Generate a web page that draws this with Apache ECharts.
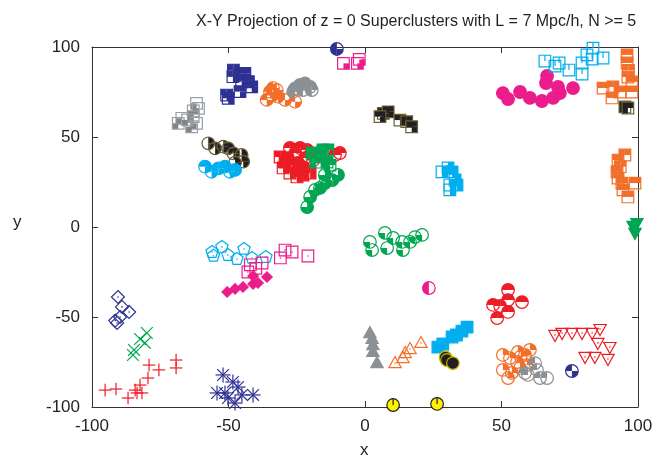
<!DOCTYPE html>
<html>
<head>
<meta charset="utf-8">
<script src="https://cdn.jsdelivr.net/npm/echarts@6/dist/echarts.min.js"></script>
<style>
  html, body { margin: 0; padding: 0; background: #fff; }
  #chart { width: 657px; height: 461px; }
</style>
</head>
<body>
<div id="chart"></div>
<script>
// ---- axis ticks ----
const xTicks = [-100, -50, 0, 50, 100];
const yTicks = [-100, -50, 0, 50, 100];

// ---- supercluster member positions (x, y) in Mpc/h ----
const navySquares = [[-48.2,87.2],[-45.8,85.4],[-44,85.4],[-45.2,80.7],[-42.7,80.7],[-41.5,77.9],[-45.8,75.2],[-50.1,71.5],[-50.7,73.3],[-48.4,83.5]];
const graySquares = [[-61.7,68.7],[-61,65.9],[-62.9,64.5],[-62.9,61.3],[-67.1,60.4],[-68.4,57.6],[-61.7,57.6],[-63.5,55.7],[-65,59.5]];
const blackHalfCircles = [[-57.4,46.5],[-54.9,43.7],[-51.9,44.6],[-50.1,43.7],[-48.2,40.9],[-45.2,40],[-44.6,36.3],[-47.6,35.7]];
const cyanCircles = [[-58.6,33.5],[-56.2,30.7],[-53.7,32.6],[-51.3,33.5],[-49.5,30.7],[-47.6,31.7]];
const orangeCheckCircles = [[-33.7,77.2],[-36,70.6],[-34.8,75.2],[-31.9,72.4],[-29.3,70.6],[-25.6,69.6],[-32.3,76.1],[-34,73]];
const grayCircles = [[-25.6,77],[-23.8,78.9],[-22,79.8],[-20.1,77.9],[-19.5,76.1],[-26.3,75.2],[-22.7,76.1]];
const navyTopCircle = [[-10.3,98.9]];
const magentaTopSquares = [[-7.9,90.9],[-2.8,90.9],[-2.1,93.1]];
const blackSquares = [[6.7,63.1],[8.5,64],[12.8,59.4],[15.3,58.5],[17.1,55.7],[5.5,61.3]];
const redSquares = [[-31.1,38.9],[-29.3,36.1],[-30,32.8],[-27.5,30],[-24.9,27.8],[-22.7,28.9],[-20.1,30],[-26.7,34.4],[-23.5,32]];
const redUpperCircles = [[-27.5,43.9],[-23.8,43.9],[-21.2,42.8],[-25.6,41.1],[-24.5,35.6],[-22.7,33.3],[-9.2,41.1],[-11,40],[-28.2,38.3],[-22,38.3],[-19,37]];
const greenSquares = [[-19.4,41.1],[-15.4,42.8],[-13.6,42.8],[-16.5,38.9],[-13.9,36.1],[-12.8,34.4],[-18,36]];
const greenCircles = [[-9.9,28.9],[-14.7,28.9],[-14.7,24.4],[-16.5,21.7],[-18.3,20.6],[-20.1,16.7],[-21.2,11.1],[-12,26]];
const cyanHalfSquares = [[31.9,30.6],[33,26.1],[33.7,23.3],[28.2,30.6],[31.1,23.3],[31.1,20.6],[30.4,32.8]];
const magentaCircles = [[50.5,74.4],[52.4,71.1],[56.8,75],[60.4,71.7],[64.8,70],[68.9,71.7],[71.4,74.4],[70.7,77.8],[66.3,80],[66.7,83.9],[76.2,77.2]];
const cyanTickSquares = [[65.9,92.2],[69.6,89.4],[71.1,91.1],[74.7,87.2],[79.5,91.1],[79.5,85],[81.3,95.6],[83.5,99.4],[83.2,93.3],[87.2,93.9]];
const orangeSquaresTop = [[96,95.6],[96,91.1],[96.3,83.3],[97.8,80.6],[87.2,77.2],[90.8,77.8],[93.4,75],[90.5,71.7],[97.8,75],[96.5,87]];
const blackYellowSquares = [[95.2,66.7],[96.3,66.1]];
const orangeSquaresEdge = [[95.2,40],[92.7,37.2],[92.3,30.6],[92.7,27.2],[94.1,24.4],[98.9,24.4],[94.5,20.6],[96.3,16.7],[93.5,33.5]];
const greenDownTriangles = [[98.2,0.6],[99.6,2.2],[98.9,-3.3]];
const cyanPentagons = [[-56,-13.9],[-55.5,-16],[-52.4,-11.1],[-50.2,-15.6],[-46.9,-17.8],[-44.3,-12.2],[-41.4,-17.2],[-36.3,-16.7]];
const magentaDotSquares = [[-42,-21],[-37.7,-20],[-42.9,-25],[-31,-17.2],[-26.7,-13.9],[-20.9,-16.1],[-29.3,-12.8],[-40,-23]];
const magentaDiamonds = [[-50.5,-36.1],[-47.6,-34.4],[-44.7,-33.3],[-41,-31.7],[-39.2,-31.1],[-41,-27.2],[-35.9,-27.8]];
const navyDiamonds = [[-90.5,-38.9],[-89,-44.4],[-86.4,-47.2],[-89.7,-50],[-90.8,-53.3],[-91.5,-52]];
const greenCrosses = [[-79.9,-58.9],[-82.4,-62.2],[-80.6,-64.4],[-84.6,-68.3],[-85,-71.1]];
const redPlusses = [[-95.2,-90.6],[-91.2,-90],[-86.8,-95],[-84.2,-90.6],[-82.4,-87.8],[-83.5,-92.2],[-81.7,-92.2],[-79.5,-83.9],[-79.1,-76.7],[-75.5,-79.4],[-69.2,-73.9],[-69.2,-78.3]];
const navyStars = [[-52,-82.2],[-48.4,-86.1],[-46.5,-88.9],[-45.1,-93.3],[-41,-93.3],[-54.2,-92.2],[-51.3,-92.2],[-50.2,-95],[-47.6,-97.8]];
const grayTriangles = [[1.8,-58.9],[2.6,-62.2],[2.9,-65.6],[2.9,-69.4],[4.4,-75.6]];
const orangeOpenTriangles = [[11,-75.6],[13.9,-72.8],[14.7,-70],[16.5,-67.8],[20.5,-64.4]];
const cyanFilledSquares = [[26.7,-66.7],[28.5,-65],[31.9,-61.1],[33.5,-60],[35.5,-57.8],[37.4,-55.6]];
const blackCircles = [[29.5,-72.5],[30,-73.9],[32.2,-75.6]];
const yellowCircles = [[10.3,-98.9],[26.4,-98.3]];
const greenOpenCircles = [[1.8,-8.3],[7.3,-3.3],[2.6,-12.8],[8.1,-11.7],[10.3,-6.1],[13.6,-8.3],[13.9,-12.8],[16.5,-8.3],[18.3,-5.6],[20.9,-4.4]];
const magentaHalfCircle = [[23.4,-33.9]];
const redLowerCircles = [[52.4,-35],[46.9,-43.3],[52.4,-40.6],[57.5,-41.7],[52.4,-47.2],[48.4,-50.6],[49.5,-43.9]];
const redDownTriangles = [[69.6,-60],[72.2,-58.9],[75.8,-58.9],[79.5,-58.9],[83.2,-58.9],[86.1,-56.7],[85.3,-64.4],[89.7,-66.7],[80.6,-72.2],[84.2,-72.2],[89,-73.3]];
const orangeLowerCircles = [[50.5,-71.1],[53.1,-72.8],[56,-69.4],[58.6,-71.1],[60.4,-68.3],[50.5,-79.4],[53.8,-81.1],[52.4,-83.9],[56.8,-78.3],[59.3,-76.7],[55.7,-75],[57,-72]];
const grayLowerCircles = [[62.3,-75.6],[63,-79.4],[59.7,-82.2],[64.1,-83.9],[66.7,-83.9],[58.6,-81.1]];
const navyCheckCircle = [[75.8,-80]];

// ---- palette ----
const C = {
  navy: '#2e3192', gray: '#8b9094', black: '#231f20', cyan: '#00aeef',
  orange: '#f26f2a', magenta: '#ec1c8c', red: '#ed1c24', green: '#00a651',
  yellow: '#fff200', olive: '#6b6138'
};

// quadrant bits: 1 upper-right, 2 upper-left, 4 lower-left, 8 lower-right
const QA = { 1: [-Math.PI / 2, 0], 2: [-Math.PI, -Math.PI / 2], 4: [Math.PI / 2, Math.PI], 8: [0, Math.PI / 2] };
const LW = 1.2;

function circleMarker(cx, cy, s) {
  const r = s.r || 6.3, col = s.color, stroke = s.stroke || col, lw = s.lw || LW;
  const out = [];
  if (s.bits === 15) {
    out.push({ type: 'circle', shape: { cx, cy, r }, style: { fill: s.fill || col, stroke, lineWidth: lw } });
  } else {
    [1, 2, 4, 8].forEach(b => {
      if (s.bits & b) out.push({ type: 'sector', shape: { cx, cy, r0: 0, r, startAngle: QA[b][0], endAngle: QA[b][1], clockwise: true }, style: { fill: col } });
    });
    out.push({ type: 'circle', shape: { cx, cy, r }, style: { fill: null, stroke, lineWidth: lw } });
  }
  if (s.tick) out.push({ type: 'line', shape: { x1: cx, y1: cy, x2: cx, y2: cy - r }, style: { stroke, lineWidth: lw } });
  return out;
}

function boxMarker(cx, cy, s) {
  const h = s.h || 5.8, col = s.color, stroke = s.stroke || col, lw = s.lw || LW;
  const out = [];
  const q = { 1: [cx, cy - h], 2: [cx - h, cy - h], 4: [cx - h, cy], 8: [cx, cy] };
  if (s.bits === 15) {
    out.push({ type: 'rect', shape: { x: cx - h, y: cy - h, width: 2 * h, height: 2 * h }, style: { fill: col } });
  } else {
    [1, 2, 4, 8].forEach(b => {
      if (s.bits & b) out.push({ type: 'rect', shape: { x: q[b][0], y: q[b][1], width: h, height: h }, style: { fill: s.qfill && s.qfill[b] ? s.qfill[b] : col } });
    });
  }
  if (s.outline !== false) out.push({ type: 'rect', shape: { x: cx - h, y: cy - h, width: 2 * h, height: 2 * h }, style: { fill: null, stroke, lineWidth: lw } });
  if (s.tick) out.push({ type: 'line', shape: { x1: cx, y1: cy, x2: cx, y2: cy - h }, style: { stroke, lineWidth: lw } });
  if (s.dot) out.push({ type: 'circle', shape: { cx, cy, r: 0.8 }, style: { fill: col } });
  return out;
}

function polyMarker(cx, cy, s) {
  const r = s.r || 6.5, col = s.color, lw = s.lw || LW;
  let pts;
  if (s.shape === 'tri') pts = [[0, -r], [r * 0.95, r * 0.7], [-r * 0.95, r * 0.7]];
  else if (s.shape === 'triDown') pts = [[0, r], [r * 0.95, -r * 0.7], [-r * 0.95, -r * 0.7]];
  else if (s.shape === 'diamond') pts = [[0, -r], [r, 0], [0, r], [-r, 0]];
  else {
    pts = [];
    for (let k = 0; k < 5; k++) {
      const a = -Math.PI / 2 + k * 2 * Math.PI / 5;
      pts.push([r * Math.cos(a), r * Math.sin(a)]);
    }
  }
  const points = pts.map(p => [cx + p[0], cy + p[1]]);
  const out = [{ type: 'polygon', shape: { points }, style: s.filled ? { fill: col, stroke: col, lineWidth: lw } : { fill: null, stroke: col, lineWidth: lw } }];
  if (s.dot) out.push({ type: 'circle', shape: { cx, cy, r: 0.8 }, style: { fill: col } });
  return out;
}

function strokeMarker(cx, cy, s) {
  const r = s.r || 6, col = s.color, lw = s.lw || LW;
  const segs = [];
  if (s.shape === 'plus' || s.shape === 'star') { segs.push([-r, 0, r, 0], [0, -r, 0, r]); }
  if (s.shape === 'cross' || s.shape === 'star') { const d = r * 0.78; segs.push([-d, -d, d, d], [-d, d, d, -d]); }
  return segs.map(g => ({ type: 'line', shape: { x1: cx + g[0], y1: cy + g[1], x2: cx + g[2], y2: cy + g[3] }, style: { stroke: col, lineWidth: lw } }));
}

function makeSeries(data, s) {
  return {
    type: 'custom',
    coordinateSystem: 'cartesian2d',
    data,
    silent: true,
    clip: false,
    renderItem: function (params, api) {
      const p = api.coord([api.value(0), api.value(1)]);
      let children;
      if (s.shape === 'circle') children = circleMarker(p[0], p[1], s);
      else if (s.shape === 'box') children = boxMarker(p[0], p[1], s);
      else if (s.shape === 'plus' || s.shape === 'cross' || s.shape === 'star') children = strokeMarker(p[0], p[1], s);
      else children = polyMarker(p[0], p[1], s);
      return { type: 'group', children };
    }
  };
}

const series = [
  makeSeries(graySquares, { shape: 'box', bits: 4, color: '#7f8488', stroke: '#9a9fa3' }),
  makeSeries(navySquares, { shape: 'box', bits: 11, color: C.navy }),
  makeSeries(blackHalfCircles, { shape: 'circle', bits: 9, color: C.black, stroke: C.olive }),
  makeSeries(cyanCircles, { shape: 'circle', bits: 11, color: C.cyan }),
  makeSeries(orangeCheckCircles, { shape: 'circle', bits: 10, color: C.orange }),
  makeSeries(grayCircles, { shape: 'circle', bits: 7, color: C.gray }),
  makeSeries(navyTopCircle, { shape: 'circle', bits: 14, color: C.navy }),
  makeSeries(magentaTopSquares, { shape: 'box', bits: 8, color: C.magenta }),
  makeSeries(blackSquares, { shape: 'box', bits: 11, color: C.black, stroke: C.olive }),
  makeSeries(redSquares, { shape: 'box', bits: 11, color: C.red }),
  makeSeries(redUpperCircles, { shape: 'circle', bits: 3, color: C.red }),
  makeSeries(greenSquares, { shape: 'box', bits: 7, color: C.green }),
  makeSeries(greenCircles, { shape: 'circle', bits: 13, color: C.green }),
  makeSeries(cyanHalfSquares, { shape: 'box', bits: 9, color: C.cyan }),
  makeSeries(magentaCircles, { shape: 'circle', bits: 15, color: C.magenta }),
  makeSeries(cyanTickSquares, { shape: 'box', bits: 0, color: C.cyan, tick: true }),
  makeSeries(orangeSquaresTop, { shape: 'box', bits: 3, color: C.orange }),
  makeSeries(blackYellowSquares, { shape: 'box', bits: 7, color: C.black, stroke: C.olive, qfill: { 8: C.yellow }, }),
  makeSeries(orangeSquaresEdge, { shape: 'box', bits: 3, color: C.orange }),
  makeSeries(greenDownTriangles, { shape: 'triDown', filled: true, color: C.green }),
  makeSeries(cyanPentagons, { shape: 'pent', dot: true, color: C.cyan }),
  makeSeries(magentaDotSquares, { shape: 'box', bits: 0, dot: true, color: C.magenta }),
  makeSeries(magentaDiamonds, { shape: 'diamond', filled: true, color: C.magenta, r: 5.2 }),
  makeSeries(navyDiamonds, { shape: 'diamond', dot: true, color: C.navy }),
  makeSeries(greenCrosses, { shape: 'cross', color: C.green, r: 7.5 }),
  makeSeries(redPlusses, { shape: 'plus', color: C.red, r: 6.3 }),
  makeSeries(navyStars, { shape: 'star', color: C.navy, r: 7.5 }),
  makeSeries(grayTriangles, { shape: 'tri', filled: true, color: C.gray }),
  makeSeries(orangeOpenTriangles, { shape: 'tri', dot: true, color: C.orange }),
  makeSeries(cyanFilledSquares, { shape: 'box', bits: 15, color: C.cyan }),
  makeSeries(blackCircles, { shape: 'circle', bits: 15, color: C.black, stroke: '#c8b400' }),
  makeSeries(yellowCircles, { shape: 'circle', bits: 15, color: C.yellow, stroke: C.black, tick: true }),
  makeSeries(greenOpenCircles, { shape: 'circle', bits: 4, color: C.green }),
  makeSeries(magentaHalfCircle, { shape: 'circle', bits: 6, color: C.magenta }),
  makeSeries(redLowerCircles, { shape: 'circle', bits: 3, color: C.red }),
  makeSeries(redDownTriangles, { shape: 'triDown', dot: true, color: C.red }),
  makeSeries(orangeLowerCircles, { shape: 'circle', bits: 1, color: C.orange }),
  makeSeries(grayLowerCircles, { shape: 'circle', bits: 2, color: C.gray }),
  makeSeries(navyCheckCircle, { shape: 'circle', bits: 10, color: C.navy })
];

const FONT = 'Liberation Sans';
const axisCommon = {
  min: -100, max: 100, interval: 50,
  axisLine: { onZero: false, lineStyle: { color: '#333', width: 1 } },
  axisTick: { inside: true, length: 6, lineStyle: { color: '#333' } },
  splitLine: { show: false }
};

const chart = echarts.init(document.getElementById('chart'), null, { renderer: 'canvas' });
chart.setOption({
  animation: false,
  backgroundColor: '#fff',
  title: {
    text: 'X-Y Projection of z = 0 Superclusters with L = 7 Mpc/h, N >= 5',
    left: 191, top: 9,
    textStyle: { fontFamily: FONT, fontSize: 16, fontWeight: 'normal', color: '#231f20' }
  },
  grid: { left: 92, right: 19, top: 47, bottom: 54 },
  xAxis: [
    Object.assign({}, axisCommon, { type: 'value', position: 'bottom',
      axisLabel: { margin: 11, fontFamily: FONT, fontSize: 17, color: '#231f20',
        formatter: v => xTicks.indexOf(v) >= 0 ? String(v) : '' } }),
    Object.assign({}, axisCommon, { type: 'value', position: 'top', axisLabel: { show: false } })
  ],
  yAxis: [
    Object.assign({}, axisCommon, { type: 'value', position: 'left',
      axisLabel: { margin: 12, fontFamily: FONT, fontSize: 17, color: '#231f20',
        formatter: v => yTicks.indexOf(v) >= 0 ? String(v) : '' } }),
    Object.assign({}, axisCommon, { type: 'value', position: 'right', axisLabel: { show: false } })
  ],
  graphic: [
    { type: 'text', left: 360, top: 442, style: { text: 'x', font: '17px ' + FONT, fill: '#231f20' } },
    { type: 'text', left: 13, top: 214, style: { text: 'y', font: '17px ' + FONT, fill: '#231f20' } }
  ],
  series
});
</script>
</body>
</html>
